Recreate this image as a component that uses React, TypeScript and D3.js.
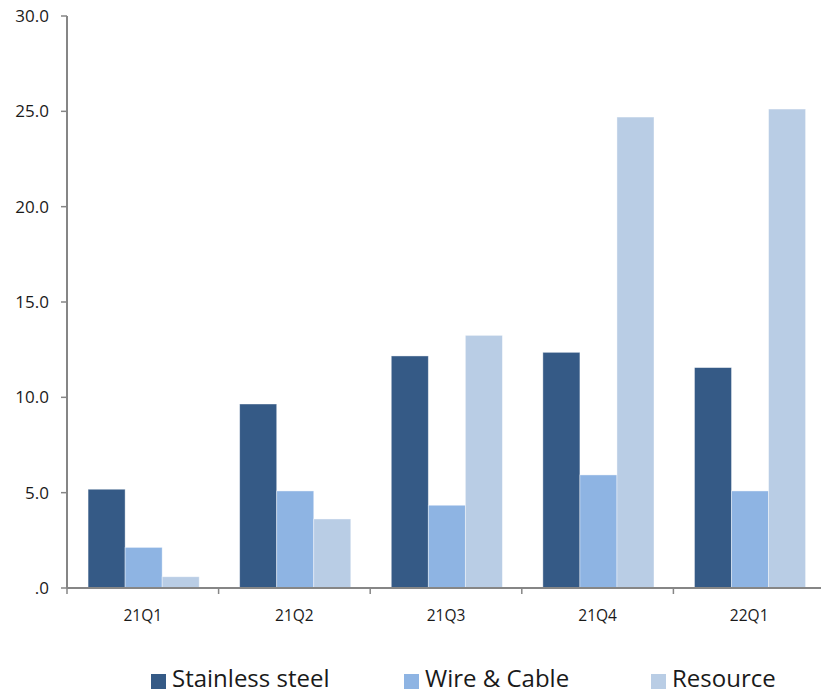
import React from "react";
import * as d3 from "d3";

const categories = ["21Q1", "21Q2", "21Q3", "21Q4", "22Q1"];
const seriesNames = ["Stainless steel", "Wire & Cable", "Resource"];
const stainless = [5.18, 9.65, 12.17, 12.36, 11.56];
const wireCable = [2.13, 5.09, 4.34, 5.93, 5.09];
const resource = [0.59, 3.62, 13.25, 24.7, 25.12];
const yTicks = [0, 5, 10, 15, 20, 25, 30];
const colors = ["#355A86", "#8EB4E3", "#B9CDE5"];

export default function App() {
  const W = 821, H = 694;
  const left = 67, right = 825, top = 16, bottom = 588;
  const y = d3.scaleLinear().domain([0, 30]).range([bottom, top]);
  const x = d3.scaleBand().domain(categories).range([left, right]).paddingInner(0).paddingOuter(0);
  const bw = x.bandwidth();
  const inner = d3.scaleBand().domain(seriesNames).range([bw * 0.139, bw * 0.872]).paddingInner(0).paddingOuter(0);
  const series = [stainless, wireCable, resource];
  const font = "'Open Sans', 'Noto Sans', sans-serif";
  const axisColor = "#868686";
  const fmt = (v: number) => (v === 0 ? ".0" : v.toFixed(1));
  const legendX = [151, 404, 651];
  return (
    <svg width={W} height={H} style={{ position: "absolute", left: 0, top: 0 }}>
      <rect width={W} height={H} fill="#fff" />
      {series.map((vals, si) =>
        vals.map((v, ci) => (
          <rect
            key={`${si}-${ci}`}
            x={(x(categories[ci]) as number) + (inner(seriesNames[si]) as number)}
            y={y(v)}
            width={inner.bandwidth()}
            height={bottom - y(v)}
            fill={colors[si]}
            stroke="#ffffff"
            strokeOpacity={0.5}
            strokeWidth={0.8}
          />
        ))
      )}
      <line x1={left} x2={left} y1={top} y2={bottom} stroke={axisColor} strokeWidth={2} />
      <line x1={left} x2={right} y1={bottom} y2={bottom} stroke={axisColor} strokeWidth={2} />
      {yTicks.map((t) => (
        <g key={t}>
          <line x1={left - 6} x2={left} y1={y(t)} y2={y(t)} stroke={axisColor} strokeWidth={1.5} />
          <text x={49} y={y(t)} dy="0.35em" textAnchor="end" fontFamily={font} fontSize={17} fill="#1a1a1a">
            {fmt(t)}
          </text>
        </g>
      ))}
      {categories.map((c) => (
        <g key={c}>
          <line x1={x(c) as number} x2={x(c) as number} y1={bottom} y2={bottom + 6} stroke={axisColor} strokeWidth={1.5} />
          <text x={(x(c) as number) + bw / 2} y={616} dy="0.35em" textAnchor="middle" fontFamily={font} fontSize={15.5} fill="#1a1a1a">
            {c}
          </text>
        </g>
      ))}
      {seriesNames.map((s, i) => (
        <g key={s}>
          <rect x={legendX[i]} y={674} width={15} height={15} fill={colors[i]} />
          <text x={legendX[i] + 21} y={679} dy="0.35em" fontFamily={font} fontSize={24} fill="#1a1a1a">
            {s}
          </text>
        </g>
      ))}
    </svg>
  );
}
